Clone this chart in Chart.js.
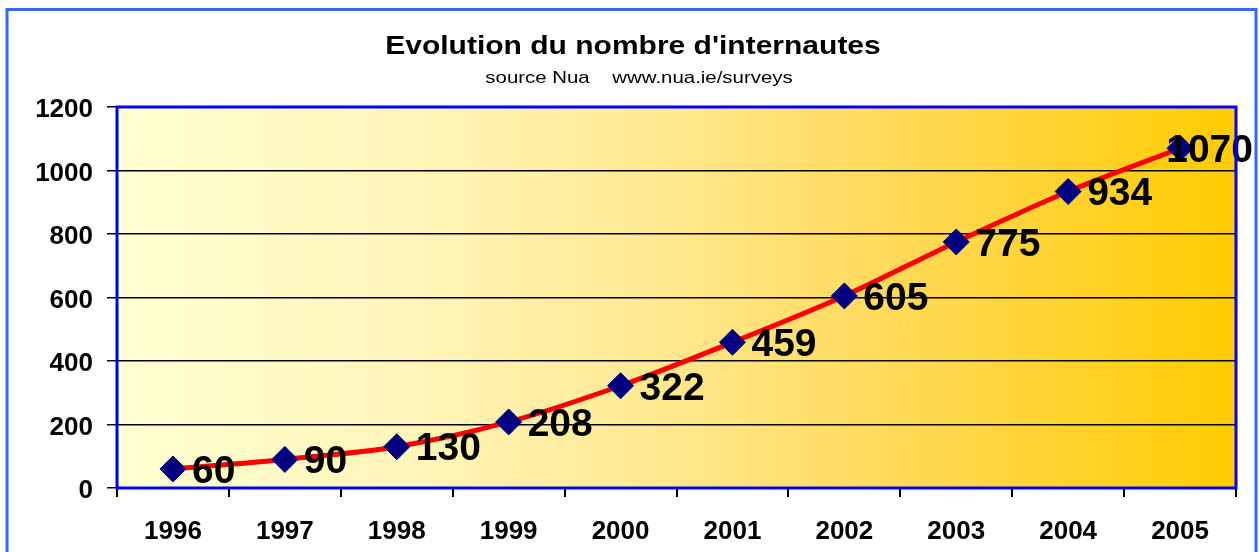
<!DOCTYPE html>
<html>
<head>
<meta charset="utf-8">
<script src="https://cdn.jsdelivr.net/npm/chart.js@4.4.1/dist/chart.umd.min.js"></script>
<style>
  html, body { margin: 0; padding: 0; background: #fff; }
  #wrap { width: 1259px; height: 552px; position: relative; }
</style>
</head>
<body>
<div id="wrap"><canvas id="trendCanvas" width="1259" height="552"></canvas></div>
<script>
// data
const years = ["1996", "1997", "1998", "1999", "2000", "2001", "2002", "2003", "2004", "2005"];
const internautes = [60, 90, 130, 208, 322, 459, 605, 775, 934, 1070];
const yTicks = [0, 200, 400, 600, 800, 1000, 1200];
const titleText = "Evolution du nombre d'internautes";
const subtitleText = "source Nua    www.nua.ie/surveys";

const FONT = "Arial, 'Liberation Sans', sans-serif";

// gradient background + blue plot border + outer frame
const framePlugin = {
  id: "frame",
  beforeDraw(chart) {
    const { ctx, chartArea: a } = chart;
    ctx.save();
    const g = ctx.createLinearGradient(a.left, 0, a.right, 0);
    g.addColorStop(0, "#FFFFD2");
    g.addColorStop(0.25, "#FFF6BA");
    g.addColorStop(0.45, "#FFEB98");
    g.addColorStop(0.7, "#FFD957");
    g.addColorStop(1, "#FFCC00");
    ctx.fillStyle = g;
    ctx.fillRect(a.left, a.top, a.right - a.left, a.bottom - a.top);
    // outer frame
    ctx.strokeStyle = "#3366FF";
    ctx.lineWidth = 3;
    ctx.strokeRect(7, 9.5, 1249, 600);
    ctx.restore();
  },
  afterDraw(chart) {
    const { ctx, chartArea: a } = chart;
    ctx.save();
    ctx.strokeStyle = "#0000FF";
    ctx.lineWidth = 3;
    ctx.strokeRect(a.left, a.top, a.right - a.left, a.bottom - a.top);

    // title + subtitle, slightly wide like the original export
    ctx.fillStyle = "#000";
    ctx.textAlign = "center";
    ctx.textBaseline = "alphabetic";
    ctx.translate(633, 0);
    ctx.scale(1.2, 1);
    ctx.font = "bold 25px " + FONT;
    ctx.fillText(titleText, 0, 54);
    ctx.font = "17px " + FONT;
    ctx.fillText(subtitleText, 5, 83);
    ctx.restore();
  }
};

// value labels to the right of each diamond, kept inside the frame
const valueLabels = {
  id: "valueLabels",
  afterDatasetsDraw(chart) {
    const { ctx } = chart;
    const meta = chart.getDatasetMeta(0);
    ctx.save();
    ctx.font = "bold 39px " + FONT;
    ctx.fillStyle = "#000";
    ctx.textAlign = "left";
    ctx.textBaseline = "middle";
    meta.data.forEach((pt, i) => {
      const txt = String(internautes[i]);
      const w = ctx.measureText(txt).width;
      const x = Math.min(pt.x + 19, 1253 - w);
      ctx.fillText(txt, x, pt.y + 3);
    });
    ctx.restore();
  }
};

new Chart(document.getElementById("trendCanvas").getContext("2d"), {
  type: "line",
  data: {
    labels: years,
    datasets: [{
      data: internautes,
      borderColor: "#FF0000",
      borderWidth: 5,
      tension: 0.3,
      pointStyle: "rectRot",
      pointRadius: 13,
      pointHoverRadius: 13,
      pointBackgroundColor: "#000080",
      pointBorderColor: "#000080",
      pointBorderWidth: 1,
      clip: false
    }]
  },
  options: {
    responsive: false,
    animation: false,
    layout: { padding: { left: 0, right: 23, top: 107, bottom: 0 } },
    scales: {
      x: {
        offset: true,
        grid: { offset: true, drawOnChartArea: false, drawTicks: true, tickLength: 9, color: "#000", lineWidth: 2 },
        border: { display: false },
        ticks: { color: "#000", font: { family: FONT, size: 26, weight: "bold" }, padding: 19, maxRotation: 0 },
        afterFit(scale) { scale.height = 64; }
      },
      y: {
        min: 0,
        max: 1200,
        afterBuildTicks(scale) { scale.ticks = yTicks.map(v => ({ value: v })); },
        grid: { color: "#000", lineWidth: 1.5, drawTicks: true, tickLength: 10 },
        border: { display: false },
        ticks: {
          color: "#000",
          font: { family: FONT, size: 26, weight: "bold" },
          padding: 14,
          labelOffset: 3,
          callback: v => String(v)
        },
        afterFit(scale) { scale.width = 117; }
      }
    },
    plugins: {
      legend: { display: false },
      tooltip: { enabled: false },
      title: { display: false },
      subtitle: { display: false }
    }
  },
  plugins: [framePlugin, valueLabels]
});
</script>
</body>
</html>
